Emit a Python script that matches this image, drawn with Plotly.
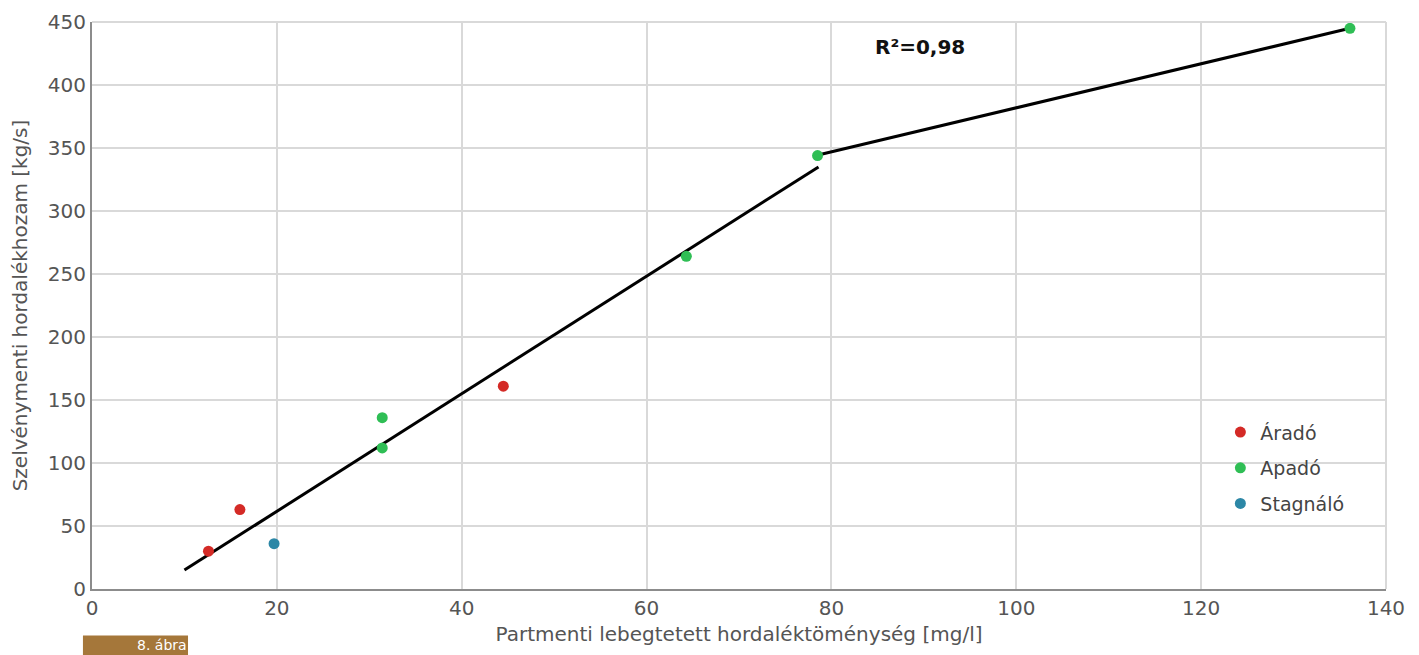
import plotly.graph_objects as go

# Data
arado_x = [12.6, 16.0, 44.5]
arado_y = [30, 63, 161]
apado_x = [31.4, 31.4, 64.3, 78.5, 136.1]
apado_y = [136, 112, 264, 344, 445]
stag_x = [19.7]
stag_y = [36]
fit1_x = [10, 78.6]
fit1_y = [15, 335]
fit2_x = [78.9, 136.1]
fit2_y = [345, 445]

FONT = "DejaVu Sans"
fig = go.Figure()
fig.add_trace(go.Scatter(x=fit1_x, y=fit1_y, mode="lines", line=dict(color="black", width=3), showlegend=False, hoverinfo="skip"))
fig.add_trace(go.Scatter(x=fit2_x, y=fit2_y, mode="lines", line=dict(color="black", width=3), showlegend=False, hoverinfo="skip"))
fig.add_trace(go.Scatter(x=arado_x, y=arado_y, mode="markers", name="Áradó", legendgroup="a",
                         marker=dict(color="#d42a26", size=11)))
fig.add_trace(go.Scatter(x=apado_x, y=apado_y, mode="markers", name="Apadó", legendgroup="b",
                         marker=dict(color="#2fbe55", size=11)))
fig.add_trace(go.Scatter(x=stag_x, y=stag_y, mode="markers", name="Stagnáló", legendgroup="c",
                         marker=dict(color="#2c87a6", size=11)))

fig.update_layout(
    width=1419, height=655,
    margin=dict(l=84, r=41, t=14, b=74),
    paper_bgcolor="white", plot_bgcolor="white",
    font=dict(family=FONT, color="#555555", size=20),
    legend=dict(x=0.872, y=0.31, xanchor="left", yanchor="top", tracegroupgap=8,
                font=dict(size=19, color="#444444"), bgcolor="rgba(0,0,0,0)"),
    showlegend=True,
)
fig.update_xaxes(range=[0, 140], dtick=20, showgrid=True, gridcolor="#d9d9d9", gridwidth=2,
                 showline=True, linecolor="#8c8c8c", linewidth=2, zeroline=False, automargin=False,
                 ticks="", tickfont=dict(size=20, color="#555555"),
                 title=dict(text="Partmenti lebegtetett hordaléktöménység [mg/l]", font=dict(size=20, color="#555555"), standoff=8))
fig.update_yaxes(range=[0, 450], dtick=50, showgrid=True, gridcolor="#d9d9d9", gridwidth=2,
                 showline=True, linecolor="#8c8c8c", linewidth=2, zeroline=False, automargin=False,
                 ticks="", tickfont=dict(size=20, color="#555555"),
                 title=dict(text="Szelvénymenti hordalékhozam [kg/s]", font=dict(size=20, color="#555555"), standoff=15))

# light frame on top/right
fig.add_shape(type="line", xref="paper", yref="paper", x0=0, x1=1, y0=1, y1=1, line=dict(color="#d9d9d9", width=2))
fig.add_shape(type="line", xref="paper", yref="paper", x0=1, x1=1, y0=0, y1=1, line=dict(color="#d9d9d9", width=2))

fig.add_annotation(text="<b>R²=0,98</b>", x=0.64, y=0.98, xref="paper", yref="paper",
                   showarrow=False, font=dict(size=20, color="#111111", family=FONT))

# figure label box at the bottom-left
fig.add_shape(type="rect", xref="paper", yref="paper", x0=-0.0070, x1=0.0742, y0=-0.082, y1=-0.118,
              fillcolor="#a5773a", line=dict(width=0), layer="above")
fig.add_annotation(text="8. ábra", x=0.0336, y=-0.0985, xref="paper", yref="paper", yanchor="middle",
                   showarrow=False, font=dict(size=14, color="white", family=FONT))

fig.write_html("out.html", config={"displayModeBar": False})
